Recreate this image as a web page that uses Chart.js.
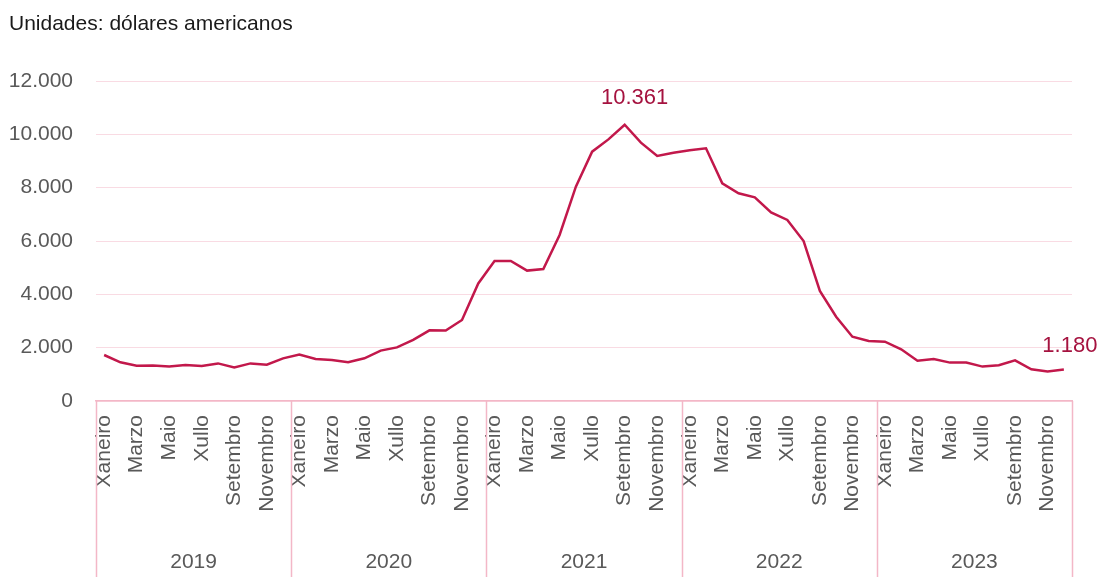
<!DOCTYPE html>
<html>
<head>
<meta charset="utf-8">
<script src="https://cdn.jsdelivr.net/npm/chart.js@4"></script>
<style>
  html, body { margin: 0; padding: 0; background: #fff; }
  canvas { display: block; }
</style>
</head>
<body>
<canvas id="importesChart" width="1107" height="577"></canvas>
<script>
// datos: importe mensual (dólares americanos)
const anos = ["2019", "2020", "2021", "2022", "2023"];
const meses = ["Xaneiro", "Febreiro", "Marzo", "Abril", "Maio", "Xuño",
               "Xullo", "Agosto", "Setembro", "Outubro", "Novembro", "Decembro"];
const valores2019 = [1725, 1450, 1325, 1330, 1290, 1350, 1310, 1410, 1260, 1410, 1360, 1600];
const valores2020 = [1740, 1575, 1540, 1450, 1600, 1890, 2010, 2290, 2650, 2640, 3040, 4410];
const valores2021 = [5250, 5250, 4890, 4950, 6225, 8040, 9350, 9810, 10361, 9690, 9190, 9310];
const valores2022 = [9400, 9475, 8160, 7790, 7640, 7075, 6790, 6000, 4125, 3160, 2410, 2250];
const valores2023 = [2225, 1940, 1510, 1575, 1440, 1440, 1290, 1340, 1525, 1190, 1110, 1180];
const ticksY = [0, 2000, 4000, 6000, 8000, 10000, 12000];

const valores = [].concat(valores2019, valores2020, valores2021, valores2022, valores2023);
const etiquetas = [];
anos.forEach(a => meses.forEach(m => etiquetas.push(m)));

const formatoMiles = v => String(v).replace(/\B(?=(\d{3})+(?!\d))/g, ".");

const cor = "#c2184b";
const corEtiqueta = "#a5123f";
const corRosa = "#f3b7c7";
const fonte = "'Liberation Sans', Arial, sans-serif";

const ctx = document.getElementById("importesChart").getContext("2d");

new Chart(ctx, {
    type: "line",
    data: {
        labels: etiquetas,
        datasets: [{
            data: valores,
            borderColor: cor,
            borderWidth: 2.5,
            pointRadius: 0,
            tension: 0,
            fill: false
        }]
    },
    options: {
        responsive: false,
        animation: false,
        layout: { padding: { top: 81, right: 35, left: 0, bottom: 0 } },
        plugins: {
            legend: { display: false },
            tooltip: { enabled: false }
        },
        scales: {
            x: {
                offset: true,
                grid: { display: false, drawTicks: false },
                border: { display: true, color: corRosa, width: 1.5 },
                ticks: {
                    autoSkip: false,
                    minRotation: 90,
                    maxRotation: 90,
                    padding: 14,
                    color: "#595959",
                    font: { family: fonte, size: 21 },
                    callback: function(val, i) {
                        return i % 2 === 0 ? etiquetas[i] : "";
                    }
                },
                afterFit: function(scale) { scale.height = 176; }
            },
            y: {
                min: 0,
                max: 12000,
                afterBuildTicks: function(scale) {
                    scale.ticks = ticksY.map(v => ({ value: v }));
                },
                grid: { color: "#f9dbe3", lineWidth: 1, drawTicks: false },
                border: { display: false },
                ticks: {
                    padding: 23,
                    color: "#595959",
                    font: { family: fonte, size: 21 },
                    callback: v => formatoMiles(v)
                },
                afterFit: function(scale) { scale.width = 96; }
            }
        }
    },
    plugins: [{
        // titulo, separadores de ano e etiquetas de datos
        afterDraw: function(chart) {
            const c = chart.ctx;
            const xs = chart.scales.x;
            const area = chart.chartArea;
            const paso = xs.getPixelForValue(1) - xs.getPixelForValue(0);

            c.save();
            c.fillStyle = "#1a1a1a";
            c.font = "21px " + fonte;
            c.textAlign = "left";
            c.textBaseline = "alphabetic";
            c.fillText("Unidades: dólares americanos", 9, 30);

            // liñas entre anos
            c.strokeStyle = corRosa;
            c.lineWidth = 1.5;
            for (let i = 0; i <= anos.length; i++) {
                const x = Math.round(xs.getPixelForValue(i * 12) - paso / 2) + 0.5;
                c.beginPath();
                c.moveTo(x, area.bottom);
                c.lineTo(x, chart.height);
                c.stroke();
            }

            // anos
            c.fillStyle = "#595959";
            c.font = "21px " + fonte;
            c.textAlign = "center";
            c.textBaseline = "middle";
            anos.forEach((a, i) => {
                const x = (xs.getPixelForValue(i * 12) + xs.getPixelForValue(i * 12 + 11)) / 2;
                c.fillText(a, x, 562);
            });

            // etiquetas de datos: máximo e último
            const meta = chart.getDatasetMeta(0);
            const iMax = valores.indexOf(Math.max(...valores));
            const iUlt = valores.length - 1;
            c.fillStyle = corEtiqueta;
            c.font = "22px " + fonte;
            const pMax = meta.data[iMax];
            c.fillText(formatoMiles(valores[iMax]), pMax.x + 10, pMax.y - 27);
            const pUlt = meta.data[iUlt];
            c.fillText(formatoMiles(valores[iUlt]), pUlt.x + 6, pUlt.y - 24);
            c.restore();
        }
    }]
});
</script>
</body>
</html>
